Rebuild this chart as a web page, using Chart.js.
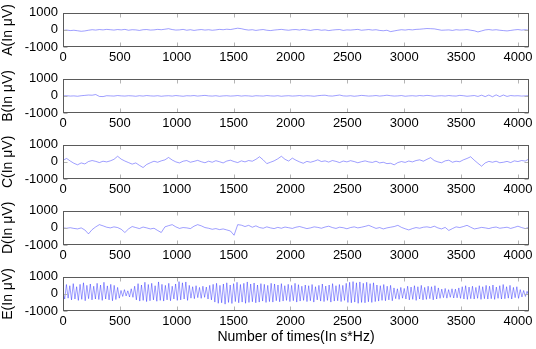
<!DOCTYPE html>
<html>
<head>
<meta charset="utf-8">
<script src="https://cdn.jsdelivr.net/npm/chart.js@4.4.0/dist/chart.umd.min.js"></script>
<style>
body { margin: 0; background: #fff; width: 536px; height: 349px; overflow: hidden; position: relative; }
.panel { position: absolute; left: 0; width: 536px; }
</style>
</head>
<body>
<div class="panel" style="top:0px"><canvas id="chA" width="536" height="66"></canvas></div>
<div class="panel" style="top:66px"><canvas id="chB" width="536" height="66"></canvas></div>
<div class="panel" style="top:132px"><canvas id="chC" width="536" height="66"></canvas></div>
<div class="panel" style="top:198px"><canvas id="chD" width="536" height="66"></canvas></div>
<div class="panel" style="top:264px"><canvas id="chE" width="536" height="85"></canvas></div>
<script>
// EEG segments, values (uV)
var xTicks = [0, 500, 1000, 1500, 2000, 2500, 3000, 3500, 4000];
var yTicks = [-1000, 0, 1000];
var xMax = 4097;
var stepAD = 32;  // sample spacing of A..D values
var stepE = 15;   // sample spacing of E values (peak / trough)

var setA = [
	-30, -10, -40, -20, -50, -80, -60, -20, 10, -10,
	20, 0, 30, 10, -10, 20, 0, 30, -20, 10,
	0, -30, 10, 20, -10, 0, 30, 10, 40, 70,
	20, -10, 0, 30, -20, 10, -30, 0, 20, -10,
	10, -20, 0, 30, 10, 40, 20, 60, 100, 70,
	20, -10, 10, -30, 0, 20, -20, -40, -10, 10,
	30, 0, -20, 10, 20, -10, 30, 0, -30, 10,
	20, -20, 0, -40, -10, 10, 20, -30, 0, -10,
	10, 30, -20, 0, 20, -10, 10, -30, -50, -20,
	-100, -60, -20, 10, -10, 20, 0, 30, 40, 60,
	80, 70, 60, 20, -20, -10, 0, -30, 10, -10,
	0, 20, -20, -50, -120, -60, 0, 20, -10, 10,
	-20, -40, -60, -30, 0, 20, -10, 10, -20
];

var setB = [
	0, 10, -10, 0, -20, 10, 30, 50, 40, 80,
	-30, -40, 10, 0, -10, 20, 0, -10, 10, 0,
	-20, 10, -10, 20, 0, -10, 10, -20, 0, 10,
	-10, 20, 0, -20, 10, 0, 20, -10, 10, 30,
	0, -10, 10, -20, 0, 10, -10, 0, 20, -10,
	10, 0, -20, 10, 0, -10, 20, 0, -10, 10,
	-20, 0, 10, -10, 0, 20, -10, 10, 0, -20,
	10, 30, 40, 0, -10, 20, 50, 0, -10, 10,
	-20, 0, 30, 10, -10, 0, 20, -10, 10, 40,
	10, -10, 0, 20, -20, 0, 10, -10, 20, 0,
	30, 10, -20, 0, 10, -10, 20, 0, -10, 30,
	10, -20, 0, 20, -30, 40, -40, 50, -50, 60,
	-40, 50, -30, 20, 0, 10, -10, 0, 10
];

var setC = [
	100, 200, 50, -80, -170, -60, -120, 20, 80, 30,
	-40, 40, 0, 60, 150, 330, 160, 50, -40, -130,
	-60, -200, -330, -150, -50, 40, -20, 60, 120, 260,
	110, 0, -60, 40, 80, -20, 30, 90, 10, -50,
	40, -20, 70, 10, -60, 50, 100, 20, -40, 60,
	0, 80, 40, 150, 300, 120, -100, -20, 60, 180,
	330, 150, 50, 220, 100, 0, -80, 30, -20, 40,
	120, 20, 60, -10, 80, 30, -40, 50, 0, 70,
	20, -50, 10, 60, 0, -30, 40, -60, -20, -100,
	-80, -170, -40, 20, -30, 50, 0, 80, 120, 40,
	150, 250, 80, 0, -50, 60, 100, -20, 40, 10,
	120, 200, 300, 100, -80, -250, -60, 30, -20, 40,
	-50, -20, 30, -40, 60, 20, 80, 50, 170
];

var setD = [
	0, -20, 10, -30, -60, 0, -120, -350, -100, 60,
	190, 120, 40, 0, 60, 20, -80, -270, -60, 80,
	20, -40, 50, 0, -60, -20, -150, -270, 60, 130,
	190, 60, -30, 20, 0, -40, 100, 190, 120, 20,
	-20, -80, -40, -100, -60, -120, -180, -430, 190, 160,
	80, 150, 40, 120, 20, -20, 60, 0, -40, 30,
	-20, 50, 10, -30, 40, 80, 20, -40, 0, 60,
	30, -20, 50, 100, 20, -30, 40, 10, -50, 20,
	60, 0, 40, 90, 150, 60, -30, 20, -60, 0,
	40, 80, 150, 30, -50, -120, -40, 20, -20, 40,
	60, 20, 100, 0, -60, 30, -150, -40, 60, 20,
	80, 150, 40, -60, -20, 30, 0, -40, 20, 50,
	-20, 10, 40, -30, 30, 100, 20, -40, 30
];

// E: alternating spike top / trough
var setE = [
	100, -300, 550, -250, 480, -350, 600, -300, 420, -380,
	560, -320, 650, -400, 500, -280, 580, -350, 450, -300,
	620, -330, 520, -380, 680, -300, 470, -350, 560, -400,
	500, -330, 380, -250, 200, -150, 250, -120, 180, -180,
	300, -200, 450, -350, 600, -420, 520, -380, 680, -450,
	550, -400, 620, -350, 480, -430, 700, -380, 560, -420,
	500, -350, 620, -400, 450, -300, 580, -380, 720, -350,
	650, -300, 700, -380, 500, -250, 420, -280, 480, -220,
	380, -260, 450, -200, 400, -300, 500, -350, 560, -480,
	620, -550, 500, -520, 580, -600, 650, -500, 520, -560,
	600, -450, 680, -520, 550, -480, 620, -550, 700, -500,
	580, -460, 640, -520, 520, -480, 600, -420, 560, -500,
	500, -450, 620, -480, 580, -400, 520, -460, 600, -420,
	480, -380, 560, -450, 500, -400, 620, -480, 540, -420,
	450, -380, 520, -450, 480, -400, 550, -480, 420, -350,
	500, -420, 580, -450, 460, -380, 520, -480, 600, -420,
	480, -400, 550, -450, 500, -380, 620, -500, 680, -520,
	720, -480, 650, -550, 700, -500, 620, -520, 680, -460,
	600, -500, 650, -450, 520, -420, 480, -380, 550, -400,
	450, -350, 500, -400, 350, -280, 300, -320, 380, -250,
	320, -300, 450, -350, 400, -320, 480, -380, 420, -300,
	500, -350, 380, -320, 450, -280, 420, -350, 480, -300,
	350, -260, 280, -220, 320, -250, 250, -200, 300, -240,
	280, -230, 350, -260, 420, -300, 480, -320, 400, -280,
	450, -300, 380, -260, 480, -320, 420, -280, 500, -300,
	450, -280, 520, -320, 400, -260, 480, -300, 550, -280,
	420, -250, 500, -300, 380, -220, 420, -260, 250, -180,
	200, -150, 150, -100
];

var panels = [
	{ id: "chA", title: "A(In \u03bcV)", vals: setA, step: stepAD },
	{ id: "chB", title: "B(In \u03bcV)", vals: setB, step: stepAD },
	{ id: "chC", title: "C(In \u03bcV)", vals: setC, step: stepAD },
	{ id: "chD", title: "D(In \u03bcV)", vals: setD, step: stepAD },
	{ id: "chE", title: "E(In \u03bcV)", vals: setE, step: stepE, xTitle: "Number of times(In s*Hz)" }
];

var font = { family: "'Liberation Sans', Arial, sans-serif", size: 13 };
var titleFont = { family: "'Liberation Sans', Arial, sans-serif", size: 14 };

// matlab-ish box with inward ticks
var boxFrame = {
	id: 'boxFrame',
	afterDatasetsDraw: function(chart) {
		var ctx = chart.ctx, a = chart.chartArea;
		var xs = chart.scales.x, ys = chart.scales.y;
		var l = Math.round(a.left) + 0.5, r = Math.round(a.right) - 0.5;
		var t = Math.round(a.top) + 0.5, b = Math.round(a.bottom) - 0.5;
		ctx.save();
		ctx.lineWidth = 1;
		ctx.strokeStyle = '#b4b4b4';
		ctx.beginPath();
		xTicks.forEach(function(v) {
			var px = Math.round(xs.getPixelForValue(v)) + 0.5;
			ctx.moveTo(px, t); ctx.lineTo(px, t + 4);
			ctx.moveTo(px, b); ctx.lineTo(px, b - 4);
		});
		yTicks.forEach(function(v) {
			var py = Math.round(ys.getPixelForValue(v)) + 0.5;
			ctx.moveTo(l, py); ctx.lineTo(l + 4, py);
			ctx.moveTo(r, py); ctx.lineTo(r - 4, py);
		});
		ctx.stroke();
		ctx.strokeStyle = '#5a5a5a';
		ctx.strokeRect(l, t, r - l, b - t);
		ctx.restore();
	}
};

function makePanel(p) {
	var pts = p.vals.map(function(v, i) { return { x: i * p.step, y: v }; });
	var canvas = document.getElementById(p.id);
	var xh = canvas.height - 7 - 40;
	return new Chart(canvas.getContext('2d'), {
		type: 'line',
		data: { datasets: [{
			data: pts,
			borderColor: 'rgba(0,0,255,0.55)',
			borderWidth: 0.7,
			pointRadius: 0,
			tension: 0,
			fill: false
		}] },
		options: {
			responsive: false,
			animation: false,
			events: [],
			layout: { padding: { left: 0, right: 7, top: 7, bottom: 0 } },
			plugins: { legend: { display: false }, tooltip: { enabled: false } },
			scales: {
				x: {
					type: 'linear', min: 0, max: xMax,
					grid: { display: false, drawTicks: false },
					border: { display: false },
					afterBuildTicks: function(s) { s.ticks = xTicks.map(function(v) { return { value: v }; }); },
					afterFit: function(s) { s.height = xh; },
					ticks: { color: '#000', font: font, padding: 3, maxRotation: 0, autoSkip: false,
						callback: function(v) { return String(v); } },
					title: { display: !!p.xTitle, text: p.xTitle || '', color: '#000', font: titleFont, padding: { top: 0, bottom: 3 } }
				},
				y: {
					min: -1000, max: 1000,
					grid: { display: false, drawTicks: false },
					border: { display: false },
					afterBuildTicks: function(s) { s.ticks = yTicks.map(function(v) { return { value: v }; }); },
					afterFit: function(s) { s.width = 63; },
					ticks: { color: '#000', font: font, padding: 5, autoSkip: false,
						callback: function(v) { return String(v); } },
					title: { display: true, text: p.title, color: '#000', font: titleFont, padding: { top: 0, bottom: 0 } }
				}
			}
		},
		plugins: [boxFrame]
	});
}

panels.forEach(makePanel);
</script>
</body>
</html>
